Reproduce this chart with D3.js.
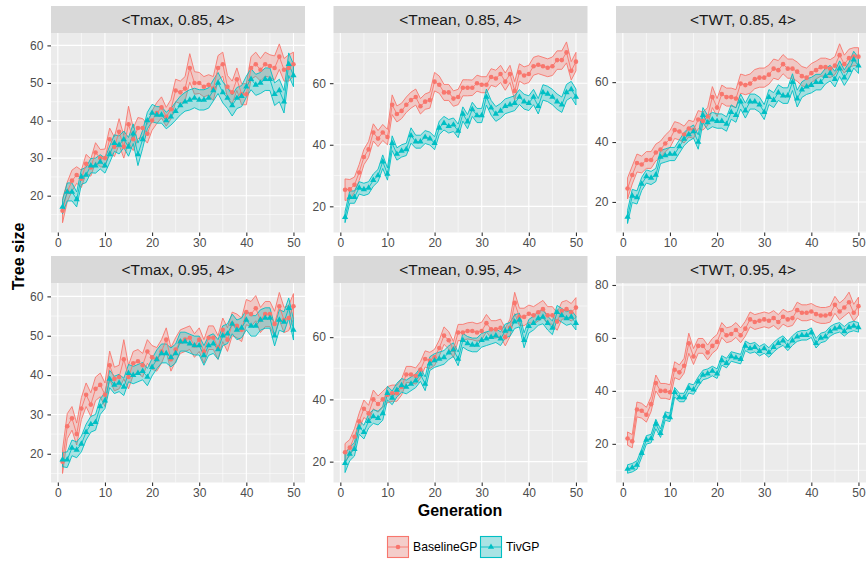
<!DOCTYPE html>
<html><head><meta charset="utf-8">
<script src="https://cdn.jsdelivr.net/npm/d3@7"></script>
<style>
body{margin:0;background:#fff}
svg{display:block}
text{font-family:"Liberation Sans",Arial,Helvetica,sans-serif}
</style>
</head><body>
<svg id="c" width="866" height="563"></svg>
<script>
// ---------------- DATA ----------------
const generations = [1,2,3,4,5,6,7,8,9,10,11,12,13,14,15,16,17,18,19,20,21,22,23,24,25,26,27,28,29,30,31,32,33,34,35,36,37,38,39,40,41,42,43,44,45,46,47,48,49,50];
const seriesNames = ["BaselineGP", "TivGP"];
const panelTitles = ["<Tmax, 0.85, 4>", "<Tmean, 0.85, 4>", "<TWT, 0.85, 4>", "<Tmax, 0.95, 4>", "<Tmean, 0.95, 4>", "<TWT, 0.95, 4>"];
const xTickValues = [0,10,20,30,40,50];
const yTickValues = [[20,30,40,50,60],[20,40,60],[20,40,60],[20,30,40,50,60],[20,40,60],[20,40,60,80]];
const yDomains = [[10.2,63.3],[11.5,76.3],[9.8,76.4],[12.7,63.4],[13.3,77.4],[5.4,80.75]];

// Tmax 0.85
const tmax85Base = [16,21,24,25.5,24.5,28.5,27.5,31.5,30,30, 35,33,37,33,39,35,38,38,36.5,40, 42,43.5,41,43,48,47.5,48.5,54,50,50, 49,49.5,48.5,54,55,49,47.5,51,47,47, 54,55,53.5,55,54.5,54,57,53.5,54,55];
const tmax85BaseHW = [3.2,2.6,2.8,2.2,2.3,2.5,2.3,2.6,2.3,2.4, 3,2.6,3.5,3,4.8,3,2.8,2.5,2.5,2.6, 2.8,2.8,2.5,2.6,3,3,3.2,3.8,3,2.8, 2.7,2.7,3.2,3.3,3.2,3,3,3,2.8,2.8, 3,3.2,3,3.2,3,3.2,3.4,3,3.5,3.2];
const tmax85Tiv = [17,21,21,19,25,25.5,28,28,29,28, 31,34,33.5,35,33,36.5,31,35,40,42, 41.5,41.5,40,41,42.5,44,45,45.5,46,45.5, 45.5,46,48,50,47.5,46,44,46,46.5,49, 51,49.5,50,51,51,47,48,45,55,52];
const tmax85TivHW = [1.8,2.4,2.4,2,2,2,1.9,2,1.9,2, 2.2,2.2,2.4,2.2,2.5,2.6,3,2.4,2.2,2.3, 2.2,2.2,2.2,2.2,2.4,2.5,2.5,2.7,2.6,2.7, 2.7,2.7,2.8,2.8,2.8,2.8,2.8,2.8,2.8,2.8, 2.8,2.8,2.8,3,3,3,3,3,3,3];

// Tmean 0.85
const tmean85Base = [25.4,25.5,27,31,36,38.5,44,42,44,42.5, 53,50,51,53,54.5,55.5,52.5,54,54.5,60.5, 59.5,57,57,55,55.5,58.5,58.5,58.5,60,59.5, 59.5,62,61.5,63,60.5,63,57.5,63.5,62.5,63, 65.5,66,65.5,65,65.5,67.5,67.5,70,64,67];
const tmean85BaseHW = [3.5,3.2,2.5,2.6,2.5,2.6,2.8,2.6,2.6,2.5, 3.2,2.6,2.5,2.5,2.6,2.6,2.5,2.5,2.6,3, 2.8,2.6,2.6,2.5,2.5,2.6,2.6,2.5,2.6,2.6, 2.6,2.7,2.7,2.8,2.8,2.8,3,2.8,2.8,2.8, 2.9,2.9,2.9,2.9,3,3,3,3.4,3,3];
const tmean85Tiv = [16.5,23,23,26,25.5,26,28.5,30,34.5,30.5, 40.5,37,38,38.5,43,41,41,42.5,42,40.5, 45.5,47,46,46.5,44.5,50,47.5,51.5,49.5,49.5, 55.5,52,50,51,52.5,53,53.5,55.5,54,53.5, 55.5,52.5,57,56.5,55.5,54,53,57,58,55.5];
const tmean85TivHW = [1.8,2,2,2,2,2,2,2,2.2,2, 2.4,2,2,2,2.5,2.1,2.1,2.1,2.1,2.1, 2.2,2.2,2.2,2.2,2.2,2.3,2.3,2.3,2.3,2.3, 2.6,2.4,2.4,2.4,2.4,2.4,2.4,2.4,2.4,2.4, 2.5,2.5,2.5,2.5,2.5,2.5,2.5,2.6,2.6,2.6];

// TWT 0.85
const twt85Base = [24.5,29,33,32.5,34,34,36.5,37.5,39.5,41, 44,43.5,42.5,44.5,44,47.5,47,48.5,55,51.5, 56,55,55,54.5,59.5,59,59.5,61,61.5,61.5, 62.5,64.5,64,66,64.5,64.5,63.5,62,61.5,63, 64,65,65,64.5,65.5,69,66,68,68.5,68.5];
const twt85BaseHW = [3.5,3,3,2.8,2.8,2.8,2.8,2.8,2.8,2.8, 2.8,2.8,2.8,2.8,2.8,3,3,3,3.5,3, 3,3,3,3,3.2,3.2,3.2,3.2,3.2,3.2, 3.2,3.2,3.2,3.2,3.2,3.2,3.2,3.2,3.2,3.2, 3,3,3,3,3,3.8,3,3,3,3];
const twt85Tiv = [15,22,21.5,26,28.5,28,29,35,35.5,36, 36,38.5,41,42.5,43.5,40,49,46.5,47.5,47, 47,46,50,49,53.5,50.5,53.5,53.5,52.5,50, 55,54,56.5,55.5,55.5,60,54.5,57.5,58.5,59, 60,60,62,63,61,64.5,61.5,64,67.5,65.5];
const twt85TivHW = [2.2,2.2,2.2,2.2,2.2,2.2,2.2,2.2,2.2,2.2, 2.2,2.2,2.2,2.2,2.2,2.4,2.5,2.4,2.4,2.4, 2.4,2.4,2.4,2.4,2.5,2.5,2.5,2.5,2.5,2.5, 2.5,2.5,2.6,2.6,2.6,2.8,2.8,2.6,2.6,2.6, 2.6,2.6,2.6,2.6,2.6,2.6,2.6,2.6,2.8,2.6];

// Tmax 0.95
const tmax95Base = [18,27,29,25,31.5,35,32.5,36.5,37.5,35, 42.5,39,39.5,44,39.5,43,43.5,42.5,46,44.5, 44,46,49,44,46.5,48.5,49,49.5,47.5,49, 46,49.5,49.5,47,51.5,49,53,52.5,51.5,56, 55.5,57,54,55.5,55.5,53,57.5,54,54.5,57.5];
const tmax95BaseHW = [3,3.2,3,2.8,2.8,3,3,3,3,3, 3.6,3,3,5,3,3,3,3,3,3, 3,3,3,3,3,3,3,3,3,3, 3,3,3,3,3,3,3,3,3,3.2, 3.2,3.2,3.2,3.2,3.2,3.2,3.5,3.2,3.2,3.2];
const tmax95Tiv = [18.5,18.5,21.5,21,22.5,25.5,27.5,28,32,33.5, 39,37.5,38,37,40.5,40,40.5,41,39.5,42, 44,45.5,45.5,44.5,45.5,48.5,48.5,48,47.5,47.5, 45,47.5,48,46.5,50,50.5,53,51.5,52,54, 52.5,52.5,54,54.5,54.5,50,54,53.5,57,51.5];
const tmax95TivHW = [1.8,2,2,2,2,2,2,2,2,2, 2.2,2.2,2.2,2.2,2.2,2.2,2.2,2.2,2.2,2.2, 2.4,2.4,2.4,2.4,2.4,2.4,2.4,2.4,2.4,2.4, 2.5,2.5,2.5,2.5,2.5,2.5,2.5,2.5,2.5,2.5, 2.6,2.6,2.6,2.6,2.6,2.6,2.6,2.6,2.6,2.6];

// Tmean 0.95
const tmean95Base = [23,24.5,28,33,37,35.5,40,38.5,40,41.5, 42,42,44,48,48,47.5,49.5,53,52.5,53.5, 56.5,60.5,59,56,61.5,61.5,62,62,61.5,62, 64.5,62.5,62.5,63,60,63,71,66.5,66.5,67.5, 67,68,69,67,67,65,68.5,69,68,69.5];
const tmean95BaseHW = [2.8,2.6,2.6,2.6,2.8,2.6,3,2.6,2.6,2.6, 2.6,2.6,2.6,2.6,2.6,2.6,2.6,2.6,2.6,2.6, 2.6,2.8,2.8,2.6,2.6,2.6,2.6,2.8,2.8,2.8, 2.8,2.8,2.8,2.8,2.8,2.8,3.4,2.8,2.8,2.8, 2.8,2.8,2.8,2.8,2.8,2.8,2.8,2.8,2.8,3.2];
const tmean95Tiv = [19.5,22.5,24,31,29.5,33,34.5,34,35.5,42, 40.5,43,44.5,44,45,46,48,45,51.5,52.5, 53,53.5,55,56,53,59,58,57.5,57.5,59, 59.5,60,60.5,59.5,62,62.5,65,65.5,59,63.5, 64.5,66,66.5,64.5,63,68,67,66,66.5,64.5];
const tmean95TivHW = [3,2.2,2.2,2.2,2.2,2.2,2.2,2.2,2.2,2.2, 2.2,2.2,2.2,2.2,2.2,2.2,2.2,2.2,2.2,2.2, 2.2,2.2,2.2,2.2,2.2,2.2,2.2,2.2,2.2,2.2, 2.2,2.2,2.2,2.2,2.2,2.2,2.2,2.2,2.4,2.2, 2.2,2.2,2.2,2.2,2.2,2.2,2.2,2.2,2.2,2.2];

// TWT 0.95
const twt95Base = [22,21,33,32.5,31,35,43,40,40,39.5, 48,47,49.5,58,53,57,57,54.5,57,58.5, 63,61,61.5,63,61,63.5,67,66,66.5,67, 66.5,67.5,66,68,67,67.5,70.5,69.5,69.5,70, 69,68.5,68.5,69,72.5,70,71.5,73.5,69.5,72];
const twt95BaseHW = [2.5,2.5,2.8,2.8,2.8,2.8,3,2.8,2.8,2.8, 3,2.8,2.8,3.8,3,2.8,2.8,2.8,2.8,2.8, 2.8,2.8,2.8,2.8,2.8,2.8,2.8,2.8,2.8,2.8, 2.8,2.8,2.8,2.8,2.8,2.8,3,3,3,3, 3,3,3,3,3.2,3.2,3.2,3.8,3.2,3.4];
const twt95Tiv = [10.5,11,12,16.5,21.5,22,27.5,24,30.5,30, 39.5,37.5,37.5,41,40.5,43.5,46,46.5,47.5,46.5, 51.5,50.5,53,52.5,52,57,56,56.5,55,56, 54.5,56.5,58,59,57,59,60.5,61,61,62, 58,60,60.5,62.5,63.5,64,62.5,64,64.5,64];
const twt95TivHW = [1.6,1.6,1.6,1.6,1.6,1.6,1.8,1.6,1.6,1.6, 1.8,1.6,1.6,1.8,1.8,1.8,1.8,1.8,1.8,1.8, 1.8,1.8,1.8,1.8,1.8,1.8,1.8,1.8,1.8,1.8, 1.8,1.8,1.8,1.8,1.8,1.8,1.8,1.8,1.8,1.8, 1.8,1.8,1.8,1.8,1.8,1.8,1.8,1.8,1.8,1.8];

const panelSeries = [
  [[tmax85Base, tmax85BaseHW], [tmax85Tiv, tmax85TivHW]],
  [[tmean85Base, tmean85BaseHW], [tmean85Tiv, tmean85TivHW]],
  [[twt85Base, twt85BaseHW], [twt85Tiv, twt85TivHW]],
  [[tmax95Base, tmax95BaseHW], [tmax95Tiv, tmax95TivHW]],
  [[tmean95Base, tmean95BaseHW], [tmean95Tiv, tmean95TivHW]],
  [[twt95Base, twt95BaseHW], [twt95Tiv, twt95TivHW]]
];

// ---------------- LAYOUT ----------------
const colors = ["#F8766D", "#00BFC4"];
const panelLefts = [51, 333.5, 616];
const panelTops = [33, 283];
const PW = 254, PH = 199.5, STRIP = 27;
const svg = d3.select("#c");

const x = d3.scaleLinear().domain([-1.45, 52.45]).range([0, PW]);
const xMinor = [5,15,25,35,45];

function minorOf(ticks, dom) {
  const step = ticks[1] - ticks[0];
  const out = [];
  for (let i = -1; i < ticks.length; i++) {
    const v = (i < 0 ? ticks[0] - step : ticks[i]) + step / 2;
    if (v > dom[0] && v < dom[1]) out.push(v);
  }
  return out;
}

panelTitles.forEach((title, i) => {
  const col = i % 3, row = Math.floor(i / 3);
  const L = panelLefts[col], T = panelTops[row];
  const y = d3.scaleLinear().domain(yDomains[i]).range([PH, 0]);
  const g = svg.append("g").attr("transform", `translate(${L},${T})`);

  g.append("rect").attr("width", PW).attr("height", PH).attr("fill", "#EBEBEB");

  const yMin = minorOf(yTickValues[i], yDomains[i]);
  g.selectAll(".ymin").data(yMin).enter().append("line")
    .attr("x1", 0).attr("x2", PW).attr("y1", d => y(d)).attr("y2", d => y(d))
    .attr("stroke", "#fff").attr("stroke-width", 0.55);
  g.selectAll(".xmin").data(xMinor).enter().append("line")
    .attr("y1", 0).attr("y2", PH).attr("x1", d => x(d)).attr("x2", d => x(d))
    .attr("stroke", "#fff").attr("stroke-width", 0.55);
  g.selectAll(".ymaj").data(yTickValues[i]).enter().append("line")
    .attr("x1", 0).attr("x2", PW).attr("y1", d => y(d)).attr("y2", d => y(d))
    .attr("stroke", "#fff").attr("stroke-width", 1.1);
  g.selectAll(".xmaj").data(xTickValues).enter().append("line")
    .attr("y1", 0).attr("y2", PH).attr("x1", d => x(d)).attr("x2", d => x(d))
    .attr("stroke", "#fff").attr("stroke-width", 1.1);

  const series = panelSeries[i].map(([mean, hw], s) => ({
    s, pts: generations.map((gen, k) => ({ gen, v: mean[k], lo: mean[k] - hw[k], hi: mean[k] + hw[k] }))
  }));

  const area = d3.area().x(d => x(d.gen)).y0(d => y(d.lo)).y1(d => y(d.hi));
  const line = d3.line().x(d => x(d.gen)).y(d => y(d.v));

  series.forEach(se => {
    g.append("path").attr("d", area(se.pts))
      .attr("fill", colors[se.s]).attr("fill-opacity", 0.3)
      .attr("stroke", colors[se.s]).attr("stroke-width", 0.9).attr("stroke-linejoin", "round");
  });
  series.forEach(se => {
    g.append("path").attr("d", line(se.pts)).attr("fill", "none")
      .attr("stroke", colors[se.s]).attr("stroke-width", 0.9);
  });
  series.forEach(se => {
    if (se.s === 0) {
      g.selectAll(null).data(se.pts).enter().append("circle")
        .attr("cx", d => x(d.gen)).attr("cy", d => y(d.v)).attr("r", 2.3)
        .attr("fill", colors[0]);
    } else {
      const tri = d3.symbol().type(d3.symbolTriangle).size(17);
      g.selectAll(null).data(se.pts).enter().append("path")
        .attr("d", tri).attr("transform", d => `translate(${x(d.gen)},${y(d.v)})`)
        .attr("fill", colors[1]);
    }
  });

  // strip
  svg.append("rect").attr("x", L).attr("y", T - STRIP).attr("width", PW).attr("height", STRIP).attr("fill", "#D9D9D9");
  svg.append("text").attr("x", L + PW / 2).attr("y", T - STRIP / 2).attr("dy", "0.35em")
    .attr("text-anchor", "middle").attr("font-size", 15.5).attr("fill", "#1A1A1A").text(title);

  // axes
  const xa = g.append("g").attr("transform", `translate(0,${PH})`)
    .call(d3.axisBottom(x).tickValues(xTickValues).tickSize(3.6).tickPadding(2.5).tickFormat(d3.format("d")));
  const ya = g.append("g")
    .call(d3.axisLeft(y).tickValues(yTickValues[i]).tickSize(3.6).tickPadding(4).tickFormat(d3.format("d")));
  [xa, ya].forEach(a => {
    a.select(".domain").remove();
    a.selectAll(".tick line").attr("stroke", "#333333").attr("stroke-width", 1.1);
    a.selectAll(".tick text").attr("fill", "#4D4D4D").attr("font-size", 12)
      .attr("font-family", '"Liberation Sans",Arial,sans-serif');
  });
});

// axis titles
svg.append("text").attr("x", 460).attr("y", 510).attr("dy", "0.35em").attr("text-anchor", "middle")
  .attr("font-size", 16).attr("font-weight", "bold").attr("fill", "#000").text("Generation");
svg.append("text").attr("transform", "translate(18,256.5) rotate(-90)").attr("dy", "0.35em")
  .attr("text-anchor", "middle").attr("font-size", 16).attr("font-weight", "bold").attr("fill", "#000").text("Tree size");

// legend
const legend = svg.append("g").attr("transform", "translate(387,536)");
const legendX = [0, 93];
seriesNames.forEach((name, s) => {
  const lg = legend.append("g").attr("transform", `translate(${legendX[s]},0)`);
  lg.append("rect").attr("width", 22).attr("height", 22).attr("fill", "#F2F2F2");
  lg.append("rect").attr("x", 0.5).attr("y", 0.5).attr("width", 21).attr("height", 21)
    .attr("fill", colors[s]).attr("fill-opacity", 0.3).attr("stroke", colors[s]).attr("stroke-width", 1.1);
  lg.append("line").attr("x1", 1).attr("x2", 21).attr("y1", 11).attr("y2", 11)
    .attr("stroke", colors[s]).attr("stroke-width", 0.9);
  if (s === 0) {
    lg.append("circle").attr("cx", 11).attr("cy", 11).attr("r", 2.3).attr("fill", colors[0]);
  } else {
    lg.append("path").attr("d", d3.symbol().type(d3.symbolTriangle).size(17)()).attr("transform", "translate(11,11)").attr("fill", colors[1]);
  }
  lg.append("text").attr("x", 26).attr("y", 11).attr("dy", "0.35em").attr("font-size", 12.2)
    .attr("fill", "#000").text(name);
});
</script>
</body></html>
